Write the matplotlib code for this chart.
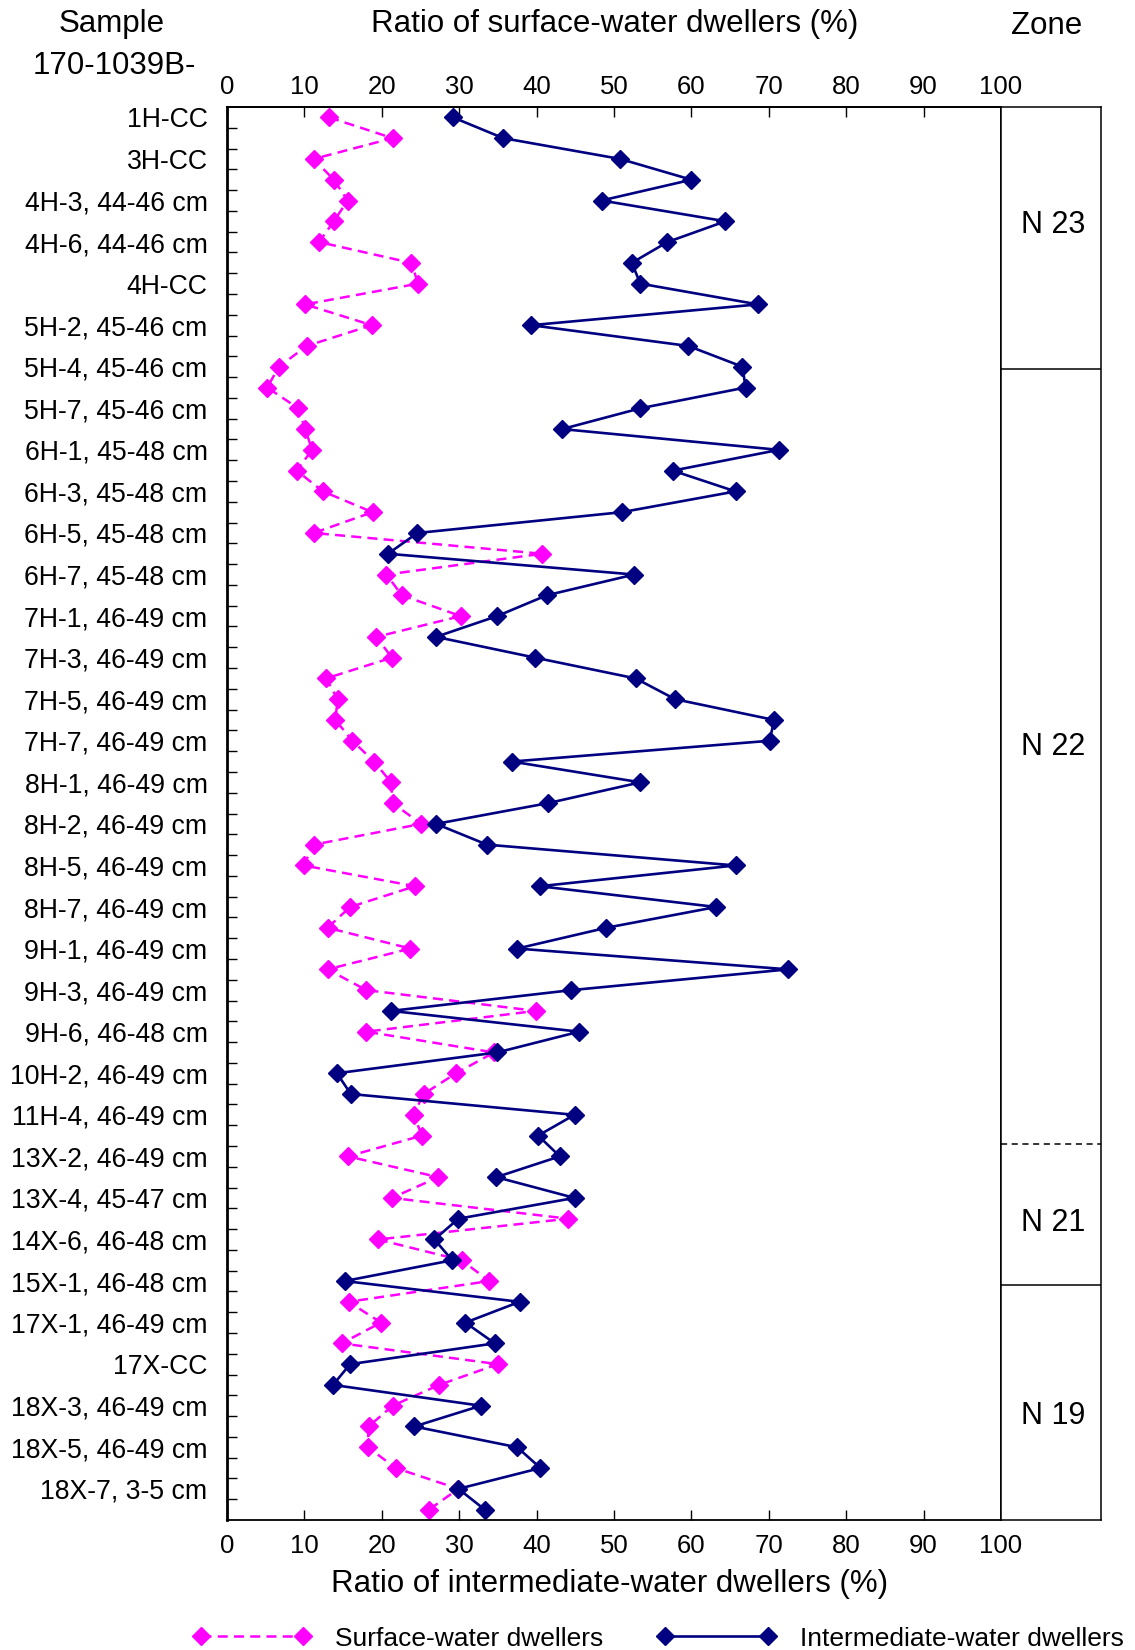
import matplotlib
matplotlib.use("Agg")
import matplotlib.pyplot as plt
import numpy as np

plt.rcParams['font.family'] = ['Liberation Sans', 'DejaVu Sans']

# sample labels (one per two rows)
sample_labels = [
    "1H-CC", "3H-CC", "4H-3, 44-46 cm", "4H-6, 44-46 cm", "4H-CC",
    "5H-2, 45-46 cm", "5H-4, 45-46 cm", "5H-7, 45-46 cm", "6H-1, 45-48 cm",
    "6H-3, 45-48 cm", "6H-5, 45-48 cm", "6H-7, 45-48 cm", "7H-1, 46-49 cm",
    "7H-3, 46-49 cm", "7H-5, 46-49 cm", "7H-7, 46-49 cm", "8H-1, 46-49 cm",
    "8H-2, 46-49 cm", "8H-5, 46-49 cm", "8H-7, 46-49 cm", "9H-1, 46-49 cm",
    "9H-3, 46-49 cm", "9H-6, 46-48 cm", "10H-2, 46-49 cm", "11H-4, 46-49 cm",
    "13X-2, 46-49 cm", "13X-4, 45-47 cm", "14X-6, 46-48 cm", "15X-1, 46-48 cm",
    "17X-1, 46-49 cm", "17X-CC", "18X-3, 46-49 cm", "18X-5, 46-49 cm",
    "18X-7, 3-5 cm",
]

surface = [
    13.2, 21.4, 11.2, 13.8, 15.6, 13.8, 11.9, 23.8, 24.7, 10.1,
    18.7, 10.3, 6.7, 5.2, 9.2, 10.1, 11.0, 9.0, 12.4, 18.8,
    11.2, 40.7, 20.6, 22.6, 30.2, 19.3, 21.3, 12.8, 14.3, 14.0,
    16.2, 19.0, 21.2, 21.4, 25.1, 11.2, 9.9, 24.3, 15.9, 13.0,
    23.7, 13.0, 18.0, 39.9, 18.0, 34.5, 29.6, 25.4, 24.1, 25.2,
    15.6, 27.3, 21.3, 44.1, 19.5, 30.3, 33.9, 15.7, 19.9, 14.8,
    35.0, 27.4, 21.4, 18.3, 18.2, 21.8, 29.9, 26.1,
]

intermediate = [
    29.2, 35.7, 50.8, 60.0, 48.4, 64.4, 56.9, 52.3, 53.4, 68.6,
    39.3, 59.6, 66.6, 67.0, 53.4, 43.3, 71.3, 57.6, 65.7, 51.0,
    24.6, 20.8, 52.6, 41.3, 34.9, 27.0, 39.8, 52.8, 57.9, 70.7,
    70.1, 36.8, 53.4, 41.5, 27.0, 33.6, 65.7, 40.4, 63.2, 49.0,
    37.5, 72.5, 44.5, 21.2, 45.5, 34.9, 14.2, 16.0, 44.9, 40.2,
    43.0, 34.8, 44.9, 29.9, 26.8, 29.1, 15.2, 37.8, 30.8, 34.6,
    15.9, 13.7, 32.8, 24.2, 37.5, 40.5, 29.9, 33.3,
]

# zone column: boundaries (row positions) and labels
zone_names = ["N 23", "N 22", "N 21", "N 19"]
zone_label_rows = [6.2, 31.3, 54.2, 63.5]
zone_bounds = [13.1, 50.4, 57.2]
zone_bound_styles = ['-', '--', '-']

MAGENTA = '#FF00FF'
NAVY = '#000080'

W, H = 1135, 1650
fig = plt.figure(figsize=(W / 100, H / 100), dpi=100)

left, right, top, bottom = 227, 1001, 107, 1520
ax = fig.add_axes([left / W, 1 - bottom / H, (right - left) / W, (bottom - top) / H])
zax = fig.add_axes([right / W, 1 - bottom / H, 100 / W, (bottom - top) / H])

rows = np.arange(1, len(surface) + 1)

ax.plot(surface, rows, color=MAGENTA, ls=(0, (4, 2.5)), lw=1.8,
        marker='D', ms=9, mec=MAGENTA, mfc=MAGENTA, label='Surface-water dwellers')
ax.plot(intermediate, rows, color=NAVY, ls='-', lw=1.9,
        marker='D', ms=9, mec=NAVY, mfc=NAVY, label='Intermediate-water dwellers')

ax.set_xlim(0, 100)
ax.set_ylim(len(rows) + 0.5, 0.5)

xticks = np.arange(0, 101, 10)
ax.set_xticks(xticks)
ax.tick_params(axis='x', direction='in', length=7, width=1,
               bottom=True, labelbottom=True, top=False, labeltop=False,
               labelsize=18.5, pad=10)

# top scale: ratio of surface-water dwellers
tax = ax.secondary_xaxis('top')
tax.set_xticks(xticks)
tax.tick_params(axis='x', direction='in', length=7, width=1,
                labelsize=18.5, pad=6)
tax.spines['top'].set_linewidth(1.3)

ax.set_yticks(np.arange(1, len(rows) + 1, 2))
ax.set_yticklabels(sample_labels)
ax.set_yticks(np.arange(1.5, len(rows), 1), minor=True)
ax.tick_params(axis='y', which='major', length=0, labelsize=19.2, pad=14)
ax.tick_params(axis='y', which='minor', direction='in', length=7, width=1)

for s in ax.spines.values():
    s.set_linewidth(1.3)
ax.spines['left'].set_linewidth(2)

# zone column
zax.set_xlim(0, 1)
zax.set_ylim(len(rows) + 0.5, 0.5)
zax.set_xticks([])
zax.set_yticks([])
for s in zax.spines.values():
    s.set_linewidth(1.1)
for yb, st in zip(zone_bounds, zone_bound_styles):
    zax.axhline(yb, color='black', lw=1.1, ls=st if st == '-' else (0, (4, 3)))
for name, yr in zip(zone_names, zone_label_rows):
    zax.text(0.52, yr, name, ha='center', va='center', fontsize=22)

# headers
fig.text(112 / W, 1 - 24 / H, "Sample", ha='center', va='center', fontsize=22.5)
fig.text(114 / W, 1 - 66 / H, "170-1039B-", ha='center', va='center', fontsize=22.5)
fig.text(615 / W, 1 - 24 / H, "Ratio of surface-water dwellers (%)",
         ha='center', va='center', fontsize=22.5)
fig.text(1047 / W, 1 - 26 / H, "Zone", ha='center', va='center', fontsize=22.5)
fig.text(610 / W, 1 - 1584 / H, "Ratio of intermediate-water dwellers (%)",
         ha='center', va='center', fontsize=22.5)

fig.legend(loc='lower left', bbox_to_anchor=(190 / W, -0.002), ncol=2,
           numpoints=2, frameon=False, fontsize=19, handlelength=4.5,
           handletextpad=0.9, columnspacing=2.05, borderpad=0.1,
           borderaxespad=0)

fig.savefig("out.png", dpi=100)
